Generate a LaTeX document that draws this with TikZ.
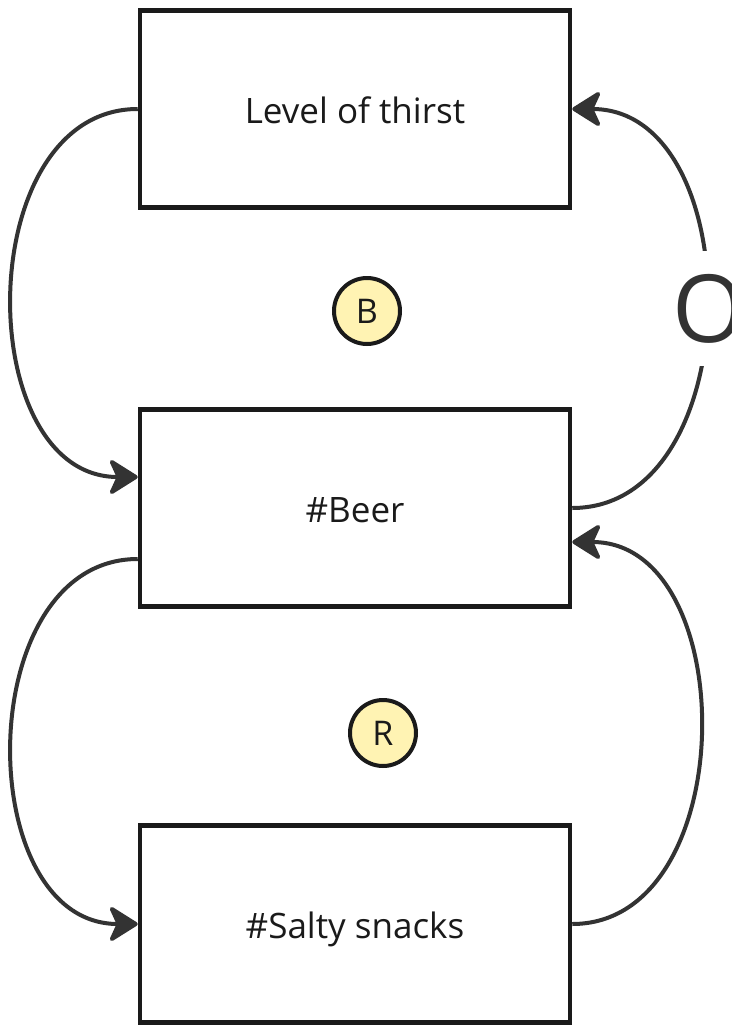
\documentclass[tikz,border=0pt]{standalone}
\usepackage{fontspec}
\setmainfont{Open Sans}
\usetikzlibrary{arrows.meta,calc}
\definecolor{boxline}{HTML}{1A1A1A}
\definecolor{linkcol}{HTML}{333333}
\definecolor{loopfill}{HTML}{FFF3B3}
\begin{document}
\begin{tikzpicture}[x=1pt,y=-1pt,
  varbox/.style={draw=boxline,line width=4.5pt,minimum width=430pt,minimum height=197pt,inner sep=0pt,
    text height=34pt,text depth=6pt,
    font=\fontsize{35}{40}\selectfont,text=boxline},
  loopmark/.style={circle,draw=boxline,line width=4pt,fill=loopfill,minimum size=66pt,inner sep=0pt,
    font=\fontsize{34}{40}\selectfont,text=boxline},
  link/.style={draw=linkcol,line width=4pt,-{Stealth[length=32pt,width=40pt,inset=9pt,round]}},
  polarity/.style={fill=white,inner sep=0pt,minimum width=60pt,minimum height=115pt,
    font=\fontsize{94}{100}\selectfont,text=linkcol}]
\useasboundingbox (0,0) rectangle (731,1025);
\fill[white] (0,0) rectangle (731,1025);
\node[varbox] (thirst) at (355,109) {Level of thirst};
\node[varbox] (beer) at (355,508) {\#Beer};
\node[varbox] (salty) at (355,924) {\#Salty snacks};
\node[loopmark] (B) at (367,311) {B};
\node[loopmark] (R) at (383,733) {R};
\coordinate (beerin) at ($(beer.west)+(0,-31)$);
\coordinate (beerout) at ($(beer.west)+(0,51)$);
\coordinate (beerback) at ($(beer.east)+(0,34)$);
\draw[link] (thirst.west) .. controls (-29,109) and (-29,477) .. (beerin);
\draw[link] (beerout) .. controls (-29,559) and (-29,924) .. (salty.west);
\draw[link] (salty.east) .. controls (742,924) and (742,542) .. (beerback);
\draw[link] (beer.east) .. controls (750,508) and (750,109) .. node[polarity,pos=0.5,xshift=4pt] (pol) {O} (thirst.east);
\end{tikzpicture}
\end{document}
